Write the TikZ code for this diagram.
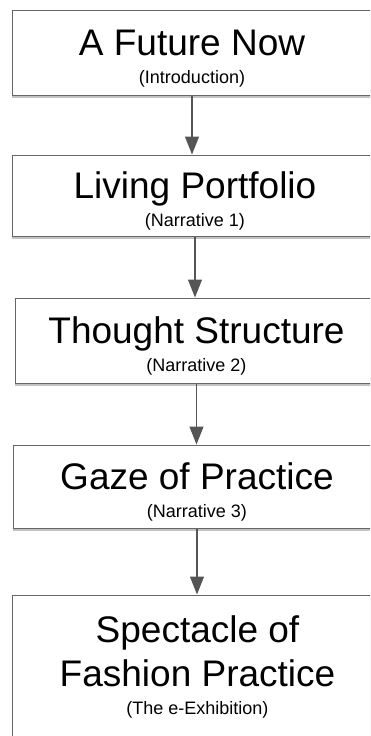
\documentclass[tikz,border=0pt]{standalone}
\usepackage{fontspec}
\setmainfont{Liberation Sans}
\usepackage{tikz}
\usetikzlibrary{shadows,positioning,arrows.meta}
\usepackage{xcolor}
\definecolor{boxgray}{RGB}{102,102,102}
\definecolor{arrgray}{RGB}{85,85,85}
\newcommand{\bigtxt}{\fontsize{37}{44}\selectfont\rule{0pt}{37pt}}

\begin{document}
\begin{tikzpicture}[x=1pt, y=-1pt,
    stage/.style={draw=boxgray, line width=1pt, fill=white, align=center, inner sep=2pt,
        font=\fontsize{18}{28}\selectfont,
        drop shadow={shadow xshift=0pt, shadow yshift=-3pt, fill=black!60, opacity=.4},
        execute at begin node={\lineskiplimit=-100pt\relax}},
    flow/.style={-{Triangle[width=14pt,length=18pt]}, draw=arrgray, line width=1.3pt}]

        \useasboundingbox (0,0) rectangle (370,736);
        \clip (0,0) rectangle (370,736);

        \node[stage, minimum width=360pt, minimum height=85pt] (intro) at (192,52.5)
            {{\bigtxt A Future Now}\\(Introduction)};
        \node[stage, minimum width=366pt, minimum height=81pt] (living) at (195,195.5)
            {{\bigtxt Living Portfolio}\\(Narrative 1)};
        \node[stage, minimum width=363pt, minimum height=85pt] (thought) at (196.5,340.5)
            {{\bigtxt Thought Structure}\\(Narrative 2)};
        \node[stage, minimum width=368pt, minimum height=83pt] (gaze) at (197,486.5)
            {{\bigtxt Gaze of Practice}\\(Narrative 3)};
        \node[stage, minimum width=371pt, minimum height=147pt] (spectacle) at (197.5,668.5)
            {{\bigtxt Spectacle of}\\[16pt]{\bigtxt Fashion Practice}\\(The e-Exhibition)\rule[-17pt]{0pt}{17pt}};

        \draw[flow] (intro.south) -- (intro.south |- living.north);
        \draw[flow] (living.south) -- (living.south |- thought.north);
        \draw[flow] (thought.south) -- (thought.south |- gaze.north);
        \draw[flow] (gaze.south) -- (gaze.south |- spectacle.north);

    \end{tikzpicture}
\end{document}
